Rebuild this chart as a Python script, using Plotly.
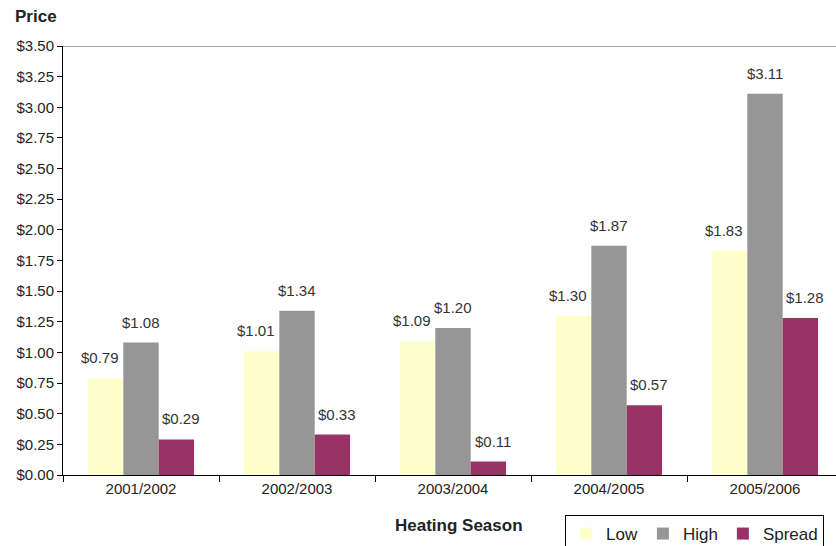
import plotly.graph_objects as go

seasons = ["2001/2002", "2002/2003", "2003/2004", "2004/2005", "2005/2006"]
low = [0.79, 1.01, 1.09, 1.30, 1.83]
high = [1.08, 1.34, 1.20, 1.87, 3.11]
spread = [0.29, 0.33, 0.11, 0.57, 1.28]

series = [("Low", low, "#FFFFCC"), ("High", high, "#969696"), ("Spread", spread, "#993366")]
label_nudge = [-6, 0, 5]

W, H = 836, 546
L, T, B = 63, 46, 71
pw = W - L
ph = H - T - B
cat_px = 156
bargap = 0.32
bar_px = cat_px * (1 - bargap) / len(series)

fig = go.Figure()
annotations = []
for i, (name, vals, col) in enumerate(series):
    fig.add_trace(go.Bar(
        x=seasons, y=vals, name=name, marker=dict(color=col, line=dict(width=0)),
    ))
    off = (i - (len(series) - 1) / 2) * bar_px + label_nudge[i]
    for s, v in zip(seasons, vals):
        annotations.append(dict(
            x=s, y=v, xref="x", yref="y", text=f"${v:.2f}", showarrow=False,
            xanchor="center", yanchor="bottom", xshift=off, yshift=10,
            font=dict(size=15, color="#333333"),
        ))

annotations += [
    dict(text="<b>Price</b>", xref="paper", yref="paper", x=(13 - L) / pw, y=1 + (T - 17) / ph,
         xanchor="left", yanchor="middle", showarrow=False, font=dict(size=17, color="#222222")),
    dict(text="<b>Heating Season</b>", xref="paper", yref="paper", x=(459 - L) / pw,
         y=-(525 - 475) / ph, xanchor="center", yanchor="middle", showarrow=False,
         font=dict(size=17, color="#222222")),
]

fig.update_layout(
    width=W, height=H, barmode="group", bargap=bargap, bargroupgap=0,
    margin=dict(l=L, r=0, t=T, b=B, autoexpand=False),
    plot_bgcolor="white", paper_bgcolor="white",
    font=dict(family="Liberation Sans, Arial, sans-serif", color="#222222"),
    showlegend=True,
    legend=dict(orientation="h", x=(565 - L) / pw, xanchor="left", y=-(515 - 475) / ph, yanchor="top",
                bordercolor="black", borderwidth=1, font=dict(size=17, color="#222222"),
                itemwidth=30, tracegroupgap=0),
    xaxis=dict(range=[-0.5, -0.5 + pw / cat_px], showline=True, linecolor="black", linewidth=1,
               ticks="outside", tickson="boundaries", ticklen=6, tickcolor="black",
               tickfont=dict(size=15, color="#222222"), showgrid=False, automargin=False),
    yaxis=dict(range=[0, 3.5], dtick=0.25, tickformat="$.2f", showline=True, linecolor="black",
               linewidth=1, ticks="outside", ticklen=5, tickcolor="black", showgrid=False,
               zeroline=False, tickfont=dict(size=15, color="#222222"), automargin=False),
    shapes=[dict(type="line", xref="paper", yref="y", x0=0, x1=1, y0=3.5, y1=3.5,
                 line=dict(color="#888888", width=1.5))],
    annotations=annotations,
)
fig.write_html("out.html", config={"displayModeBar": False},
               post_script="document.body.style.margin='0';")
